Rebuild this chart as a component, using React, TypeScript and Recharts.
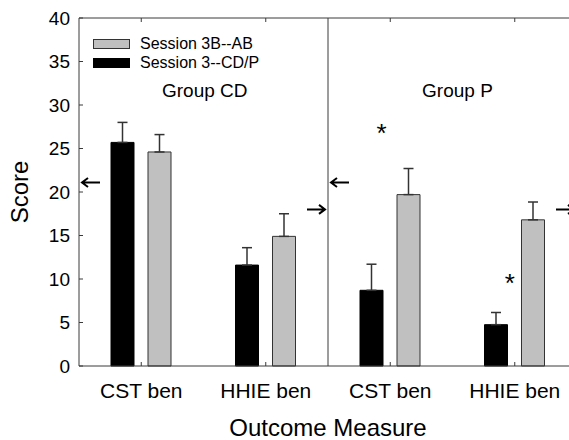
import React from "react"
import { BarChart, Bar, XAxis, YAxis, ErrorBar, Legend, ReferenceLine, ReferenceDot } from "recharts"

// outcome measures, two per group
const categories = ["CST ben", "HHIE ben", "CST ben", "HHIE ben"]
const groups = ["CD", "CD", "P", "P"]
const groupLabels = ["Group CD", "Group P"]

// mean scores and upper error (SE) per session
const session3 = [25.7, 11.6, 8.7, 4.75]
const session3Err = [2.3, 2.0, 3.0, 1.4]
const session3B = [24.6, 14.9, 19.7, 16.8]
const session3BErr = [2.0, 2.6, 3.0, 2.05]

const yTicks = [0, 5, 10, 15, 20, 25, 30, 35, 40]

// annotations; pos is measured in category widths from the left axis
const asterisks = [
  { pos: 2.43, y: 27.5 },
  { pos: 3.46, y: 10.2 },
]
const arrows = [
  { pos: 0, y: 21.1, dir: "left" },
  { pos: 2, y: 21.1, dir: "left" },
  { pos: 2, y: 18.0, dir: "right" },
  { pos: 4, y: 18.0, dir: "right" },
]
const groupLabelPos = [
  { pos: 1.01, y: 31.6 },
  { pos: 3.04, y: 31.6 },
]

const data = categories.map((c, i) => ({
  key: `${c} (${groups[i]})`,
  label: c,
  s3: session3[i],
  s3Err: [0, session3Err[i]],
  s3b: session3B[i],
  s3bErr: [0, session3BErr[i]],
}))

const CHART_W = 590
const M_RIGHT = 13
const Y_W = 79
const BAND = (CHART_W - M_RIGHT - Y_W) / categories.length

const AXIS = "#3a3a3a"
const GRAY = "#c0c0c0"

// place an annotation at a fractional category position
function catAt(pos: number) {
  const i = Math.min(categories.length - 1, Math.floor(pos))
  return { key: data[i].key, dx: (pos - i - 0.5) * BAND }
}

function LegendBox() {
  const items = [
    { name: "Session 3B--AB", color: GRAY, stroke: "#333" },
    { name: "Session 3--CD/P", color: "#000", stroke: "#000" },
  ]
  return (
    <div style={{ fontSize: 16, lineHeight: "19px", color: "#000" }}>
      {items.map((it) => (
        <div key={it.name} style={{ display: "flex", alignItems: "center", height: 19 }}>
          <span
            style={{
              display: "inline-block",
              width: 35,
              height: 8,
              background: it.color,
              border: `1px solid ${it.stroke}`,
              marginRight: 10,
            }}
          />
          <span>{it.name}</span>
        </div>
      ))}
    </div>
  )
}

function Arrow({ cx, cy, dir }: any) {
  const len = 18
  const head = 6
  const s = dir === "left" ? 1 : -1
  const tip = cx + 3 * s
  return (
    <path
      d={`M${tip},${cy} L${tip + s * len},${cy} M${tip + s * head},${cy - 4.5} L${tip},${cy} L${tip + s * head},${cy + 4.5}`}
      stroke="#000"
      strokeWidth={2}
      fill="none"
    />
  )
}

export default function App() {
  return (
    <div
      style={{
        position: "fixed",
        left: 0,
        top: 0,
        width: 569,
        height: 440,
        overflow: "hidden",
        background: "#fff",
        fontFamily: "'Liberation Sans', Arial, sans-serif",
      }}
    >
      <BarChart
        width={CHART_W}
        height={440}
        data={data}
        margin={{ top: 17, right: M_RIGHT, left: 0, bottom: 0 }}
        barSize={23}
        barGap={14}
      >
        <XAxis
          dataKey="key"
          tickFormatter={(v, i) => categories[i] ?? v}
          height={74}
          axisLine={{ stroke: AXIS }}
          tickLine={{ stroke: AXIS }}
          tickSize={-4}
          tickMargin={21}
          tick={{ fill: "#000", fontSize: 21 }}
          interval={0}
          label={({ viewBox }: any) => (
            <text x={viewBox.x + viewBox.width / 2} y={436} textAnchor="middle" fontSize={24} fill="#000">
              Outcome Measure
            </text>
          )}
        />
        <XAxis
          xAxisId="top"
          orientation="top"
          dataKey="key"
          height={1}
          axisLine={{ stroke: AXIS }}
          tickLine={{ stroke: AXIS }}
          tickSize={-4}
          tickFormatter={() => ""}
          interval={0}
        />
        <YAxis
          width={Y_W}
          domain={[0, 40]}
          ticks={yTicks}
          axisLine={{ stroke: AXIS }}
          tickLine={{ stroke: AXIS }}
          tickSize={-4}
          tickMargin={13}
          tick={{ fill: "#000", fontSize: 19 }}
          label={({ viewBox }: any) => {
            const cy = viewBox.y + viewBox.height / 2
            return (
              <text x={28} y={cy} transform={`rotate(-90, 28, ${cy})`} textAnchor="middle" fontSize={24} fill="#000">
                Score
              </text>
            )
          }}
        />
        <Legend
          layout="vertical"
          verticalAlign="middle"
          align="center"
          content={() => <LegendBox />}
          wrapperStyle={{ position: "absolute", left: 93, top: 34, width: "auto", height: "auto" }}
        />
        <ReferenceLine x={data[1].key} position="end" stroke={AXIS} strokeWidth={1} />
        <Bar dataKey="s3" name="Session 3--CD/P" fill="#000" stroke="#000" isAnimationActive={false}>
          <ErrorBar dataKey="s3Err" width={5} stroke="#333" strokeWidth={1.5} direction="y" />
        </Bar>
        <Bar dataKey="s3b" name="Session 3B--AB" fill={GRAY} stroke="#333" strokeWidth={1} isAnimationActive={false}>
          <ErrorBar dataKey="s3bErr" width={5} stroke="#333" strokeWidth={1.5} direction="y" />
        </Bar>
        {arrows.map((a, i) => {
          const c = catAt(a.pos)
          return (
            <ReferenceDot
              key={`arr${i}`}
              x={c.key}
              y={a.y}
              shape={(p: any) => <Arrow cx={p.cx + c.dx} cy={p.cy} dir={a.dir} />}
            />
          )
        })}
        {asterisks.map((a, i) => {
          const c = catAt(a.pos)
          return (
            <ReferenceDot
              key={`ast${i}`}
              x={c.key}
              y={a.y}
              shape={(p: any) => (
                <text x={p.cx + c.dx} y={p.cy + 15} textAnchor="middle" fontSize={26} fill="#000">
                  *
                </text>
              )}
            />
          )
        })}
        {groupLabelPos.map((g, i) => {
          const c = catAt(g.pos)
          return (
            <ReferenceDot
              key={`grp${i}`}
              x={c.key}
              y={g.y}
              shape={(p: any) => (
                <text x={p.cx + c.dx} y={p.cy + 6} textAnchor="middle" fontSize={19} fill="#000">
                  {groupLabels[i]}
                </text>
              )}
            />
          )
        })}
      </BarChart>
    </div>
  )
}
